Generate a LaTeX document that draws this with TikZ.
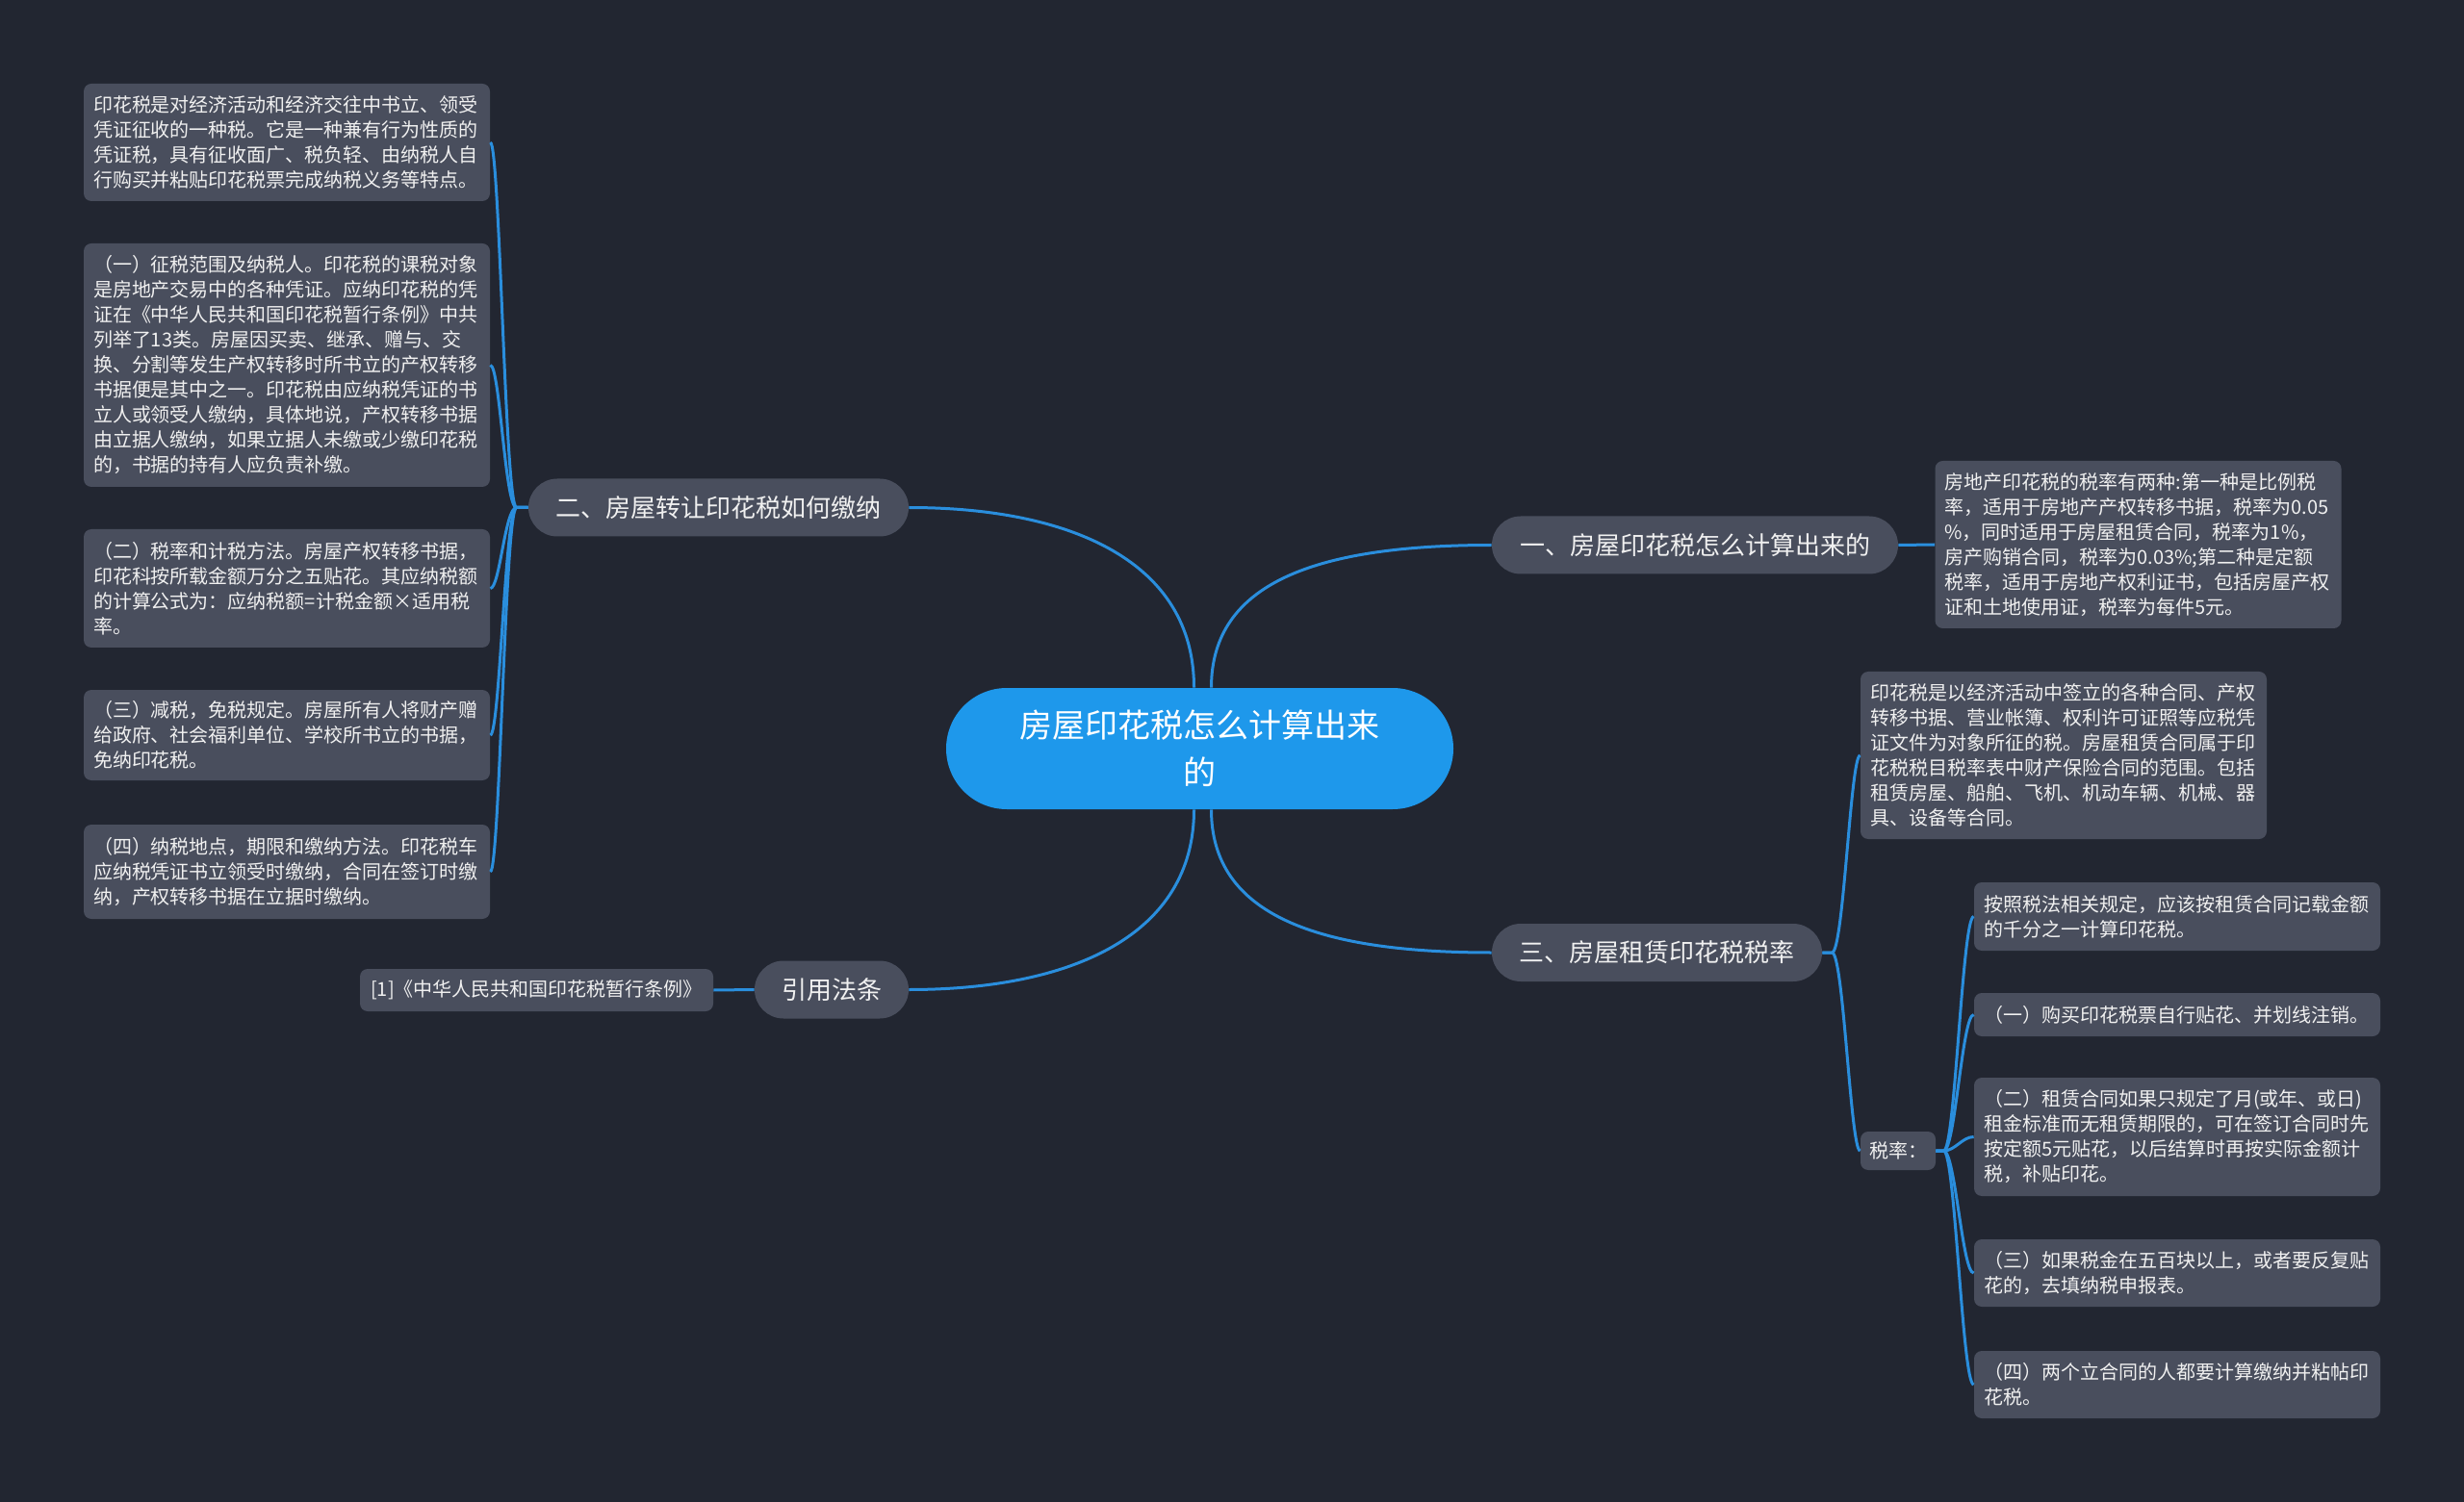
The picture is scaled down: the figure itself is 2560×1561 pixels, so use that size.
\documentclass[tikz,border=0pt]{standalone}
\usepackage{fontspec}
\setmainfont{Noto Sans CJK SC}
\definecolor{bgc}{HTML}{222631}
\definecolor{boxc}{HTML}{494E5D}
\definecolor{centc}{HTML}{1E98EB}
\definecolor{linec}{HTML}{2A8EDD}
\definecolor{txtc}{HTML}{F0F0F0}
\begin{document}
\begin{tikzpicture}[x=0.5pt,y=-0.5pt,
  leaf/.style={fill=boxc,rounded corners=4pt,text=txtc,font=\fontsize{10pt}{13pt}\selectfont,
    align=left,inner xsep=5pt,inner ysep=0pt,anchor=center},
  lbox/.style={leaf,minimum width=211pt,text width=201pt},
  branch/.style={fill=boxc,text=txtc,font=\fontsize{13pt}{16pt}\selectfont,align=center,
    inner sep=0pt,anchor=center,minimum height=30pt,rounded corners=15pt},
  link/.style={draw=linec,line width=1.5pt}]
\path[fill=bgc,use as bounding box] (0,0) rectangle (2560,1561);

% central node
\node[fill=centc,text=white,font=\fontsize{17pt}{24.5pt}\selectfont,align=center,
  minimum width=263.5pt,minimum height=63pt,rounded corners=31.5pt,inner sep=0pt]
  (c) at (1246.5,778) {房屋印花税怎么计算出来\\的};

% branches
\node[branch,minimum width=211pt] (b1) at (1761,566.5) {一、房屋印花税怎么计算出来的};
\node[branch,minimum width=197.5pt] (b2) at (746.5,527.5) {二、房屋转让印花税如何缴纳};
\node[branch,minimum width=171.5pt] (b3) at (1721.5,990) {三、房屋租赁印花税税率};
\node[branch,minimum width=80pt] (b4) at (864,1028.5) {引用法条};

% right leaves
\node[lbox,minimum height=87pt] (r1) at (2221.5,566) {房地产印花税的税率有两种:第一种是比例税\\率，适用于房地产产权转移书据，税率为0.05\\\%，同时适用于房屋租赁合同，税率为1\%，\\房产购销合同，税率为0.03\%;第二种是定额\\税率，适用于房地产权利证书，包括房屋产权\\证和土地使用证，税率为每件5元。};
\node[lbox,minimum height=87pt] (r2) at (2144,785) {印花税是以经济活动中签立的各种合同、产权\\转移书据、营业帐簿、权利许可证照等应税凭\\证文件为对象所征的税。房屋租赁合同属于印\\花税税目税率表中财产保险合同的范围。包括\\租赁房屋、船舶、飞机、机动车辆、机械、器\\具、设备等合同。};
\node[leaf,minimum width=39pt,minimum height=20pt,inner xsep=0pt,align=center] (rate) at (1972,1196) {税率：};

\node[lbox,minimum height=35.5pt] (s1) at (2262,952.5) {按照税法相关规定，应该按租赁合同记载金额\\的千分之一计算印花税。};
\node[lbox,minimum height=22.5pt] (s2) at (2262,1054.5) {（一）购买印花税票自行贴花、并划线注销。};
\node[lbox,minimum height=61.5pt] (s3) at (2262,1181.5) {（二）租赁合同如果只规定了月(或年、或日)\\租金标准而无租赁期限的，可在签订合同时先\\按定额5元贴花，以后结算时再按实际金额计\\税，补贴印花。};
\node[lbox,minimum height=35pt] (s4) at (2262,1323) {（三）如果税金在五百块以上，或者要反复贴\\花的，去填纳税申报表。};
\node[lbox,minimum height=35pt] (s5) at (2262,1439) {（四）两个立合同的人都要计算缴纳并粘帖印\\花税。};

% left leaves
\node[lbox,minimum height=61pt] (l1) at (298,148) {印花税是对经济活动和经济交往中书立、领受\\凭证征收的一种税。它是一种兼有行为性质的\\凭证税，具有征收面广、税负轻、由纳税人自\\行购买并粘贴印花税票完成纳税义务等特点。};
\node[lbox,minimum height=126.5pt] (l2) at (298,379.5) {（一）征税范围及纳税人。印花税的课税对象\\是房地产交易中的各种凭证。应纳印花税的凭\\证在《中华人民共和国印花税暂行条例》中共\\列举了13类。房屋因买卖、继承、赠与、交\\换、分割等发生产权转移时所书立的产权转移\\书据便是其中之一。印花税由应纳税凭证的书\\立人或领受人缴纳，具体地说，产权转移书据\\由立据人缴纳，如果立据人未缴或少缴印花税\\的，书据的持有人应负责补缴。};
\node[lbox,minimum height=61.5pt] (l3) at (298,611.5) {（二）税率和计税方法。房屋产权转移书据，\\印花科按所载金额万分之五贴花。其应纳税额\\的计算公式为：应纳税额=计税金额×适用税\\率。};
\node[lbox,minimum height=47pt] (l4) at (298,764) {（三）减税，免税规定。房屋所有人将财产赠\\给政府、社会福利单位、学校所书立的书据，\\免纳印花税。};
\node[lbox,minimum height=49pt] (l5) at (298,906) {（四）纳税地点，期限和缴纳方法。印花税车\\应纳税凭证书立领受时缴纳，合同在签订时缴\\纳，产权转移书据在立据时缴纳。};

\node[leaf,minimum width=183.5pt,minimum height=22pt,align=center] (cite) at (557.5,1029) {[1]《中华人民共和国印花税暂行条例》};

% center connectors
\draw[link] ([xshift=6pt]c.north) .. controls +(0,-110) and +(-180,0) .. (b1.west);
\draw[link] ([xshift=-3pt]c.north) .. controls +(0,-130) and +(170,0) .. (b2.east);
\draw[link] ([xshift=6pt]c.south) .. controls +(0,110) and +(-180,0) .. (b3.west);
\draw[link] ([xshift=-3pt]c.south) .. controls +(0,130) and +(170,0) .. (b4.east);

% straight connectors
\draw[link] (b1.east) -- (r1.west);
\draw[link] (b4.west) -- (cite.east);

% left fan
\foreach \n in {l1,l2,l3,l4,l5}{
  \draw[link] (b2.west) -- ++(-12,0) .. controls +(-12,0) and +(10,0) .. (\n.east);
}
% right fan from b3
\foreach \n in {r2,rate}{
  \draw[link] (b3.east) -- ++(10,0) .. controls +(12,0) and +(-10,0) .. (\n.west);
}
% rate fan
\foreach \n in {s1,s2,s3,s4,s5}{
  \draw[link] (rate.east) -- ++(8,0) .. controls +(12,0) and +(-12,0) .. (\n.west);
}
\end{tikzpicture}
\end{document}
